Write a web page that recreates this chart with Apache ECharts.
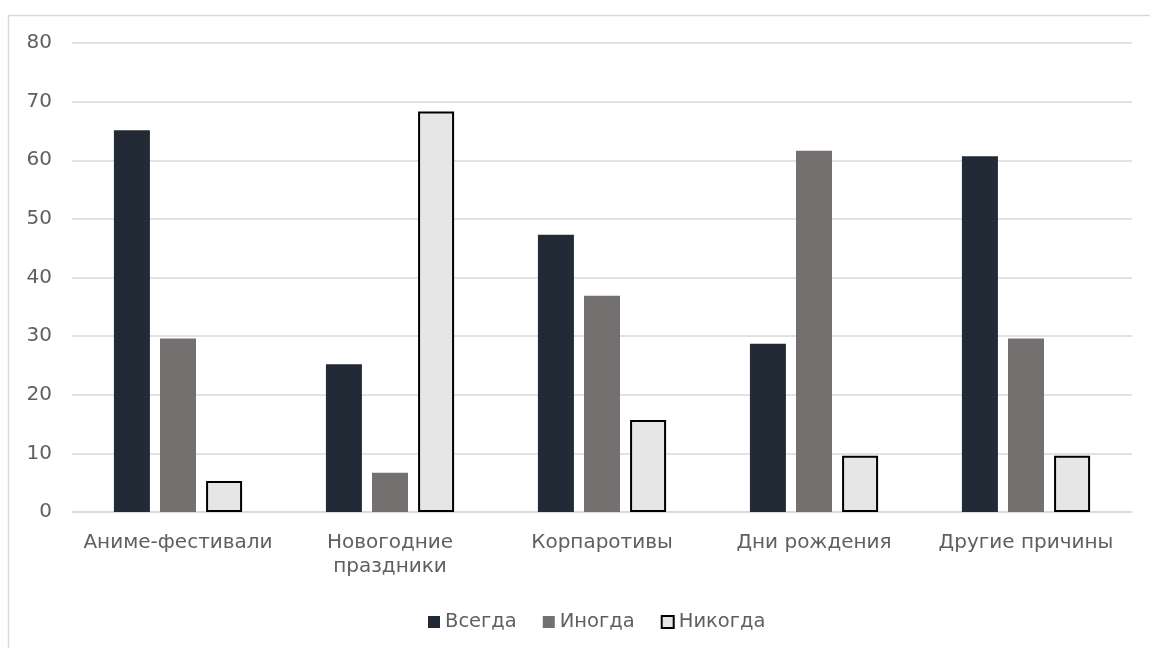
<!DOCTYPE html>
<html><head><meta charset="utf-8">
<script src="https://cdn.jsdelivr.net/npm/echarts@6/dist/echarts.min.js"></script>
<style>html,body{margin:0;padding:0;background:#fff}#c{width:1150px;height:648px}</style>
</head><body><div id="c"></div>
<script>
const categories = ['Аниме-фестивали', 'Новогодние\nпраздники', 'Корпаротивы', 'Дни рождения', 'Другие причины'];
const always = [65.1, 25.2, 47.3, 28.7, 60.7];
const sometimes = [29.6, 6.7, 36.9, 61.6, 29.6];
const never = [5.3, 68.3, 15.7, 9.6, 9.6];
const yTicks = [0, 10, 20, 30, 40, 50, 60, 70, 80];

const chart = echarts.init(document.getElementById('c'));
const font = '"DejaVu Sans", "Noto Sans", sans-serif';
chart.setOption({
  animation: false,
  textStyle: {fontFamily: font},
  graphic: [{type: 'rect', shape: {x: 8.5, y: 15.5, width: 1160, height: 660}, style: {fill: 'none', stroke: '#d9d9d9', lineWidth: 1.5}, silent: true}],
  grid: {left: 72, right: 18, top: 43, bottom: 136},
  legend: {
    bottom: 11, left: 423, itemWidth: 12, itemHeight: 12, itemGap: 26,
    textStyle: {color: '#5f5f5f', fontSize: 19.5, fontFamily: font},
    data: [
      {name: 'Всегда', icon: 'rect'},
      {name: 'Иногда', icon: 'rect'},
      {name: 'Никогда', icon: 'rect', itemStyle: {color: '#e7e6e6', borderColor: '#000', borderWidth: 2}}
    ]
  },
  xAxis: {
    type: 'category', data: categories,
    axisLine: {lineStyle: {color: '#d9d9d9', width: 1.5}},
    axisTick: {show: false},
    axisLabel: {color: '#5f5f5f', fontSize: 20, lineHeight: 24, margin: 19, interval: 0, fontFamily: font}
  },
  yAxis: {
    type: 'value', min: 0, max: 80, interval: 10,
    axisLabel: {color: '#5f5f5f', fontSize: 20, margin: 20, fontFamily: font,
      formatter: v => yTicks.includes(v) ? String(v) : ''},
    splitLine: {lineStyle: {color: '#d9d9d9', width: 1.5}},
    axisLine: {show: false}, axisTick: {show: false}
  },
  series: [
    {name: 'Всегда', type: 'bar', data: always, barWidth: 36, barGap: '28%', itemStyle: {color: '#222a35'}},
    {name: 'Иногда', type: 'bar', data: sometimes, barWidth: 36, barGap: '28%', itemStyle: {color: '#757070'}},
    {name: 'Никогда', type: 'bar', data: never, barWidth: 36, barGap: '28%', itemStyle: {color: '#e7e6e6', borderColor: '#000', borderWidth: 2}}
  ]
});
</script></body></html>
